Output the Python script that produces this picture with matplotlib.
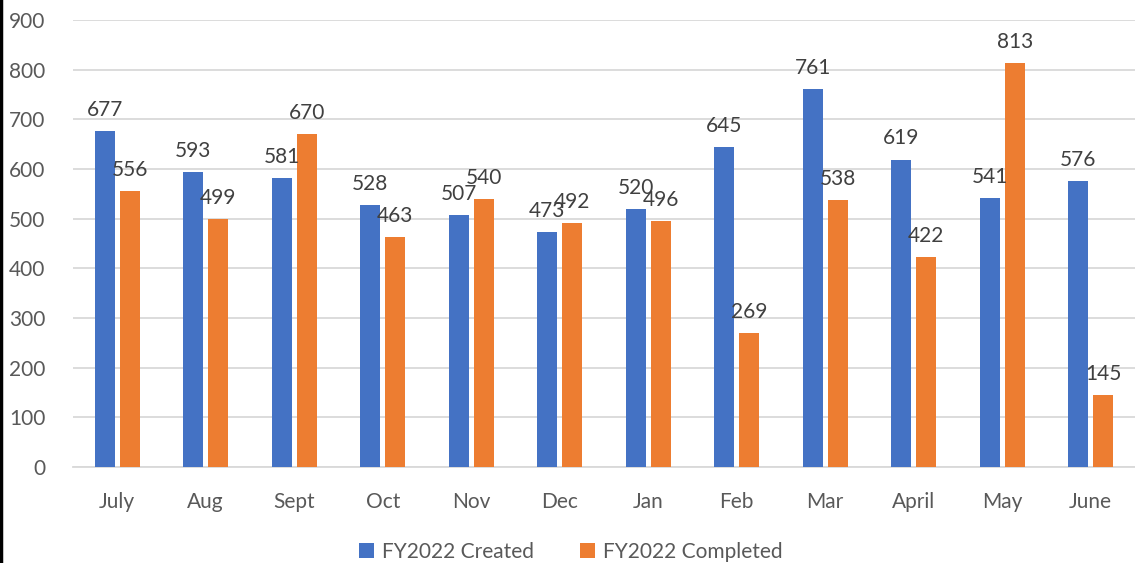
import matplotlib.pyplot as plt
import numpy as np
from matplotlib.lines import Line2D

# monthly tickets, FY2022
months = ["July", "Aug", "Sept", "Oct", "Nov", "Dec", "Jan", "Feb", "Mar",
          "April", "May", "June"]
created = [677, 593, 581, 528, 507, 473, 520, 645, 761, 619, 541, 576]
completed = [556, 499, 670, 463, 540, 492, 496, 269, 538, 422, 813, 145]

plt.rcParams["font.family"] = ["Lato", "DejaVu Sans"]

fig = plt.figure(figsize=(11.35, 5.63), dpi=100)
ax = fig.add_axes([0.0643, 0.1705, 0.9357, 0.794])

x = np.arange(len(months))
w = 0.225
off = 0.141
b1 = ax.bar(x - off, created, width=w, color="#4472C4", label="FY2022 Created",
            zorder=3)
b2 = ax.bar(x + off, completed, width=w, color="#ED7D31",
            label="FY2022 Completed", zorder=3)
ax.bar_label(b1, padding=8, fontsize=15, color="#404040", zorder=4)
ax.bar_label(b2, padding=8, fontsize=15, color="#404040", zorder=4)

ax.set_xlim(-0.5, len(months) - 0.5)
ax.set_ylim(0, 900)
ax.set_yticks(range(0, 901, 100))
ax.set_xticks(x)
ax.set_xticklabels(months)
ax.tick_params(axis="both", length=0, labelsize=15, colors="#595959")
ax.tick_params(axis="x", pad=18)
ax.tick_params(axis="y", pad=20)
ax.grid(axis="y", color="#D9D9D9", linewidth=1.3, zorder=0)
for s in ["top", "right", "left"]:
    ax.spines[s].set_visible(False)
ax.spines["bottom"].set_color("#D9D9D9")
ax.spines["bottom"].set_linewidth(1.3)

fig.legend(loc="center", bbox_to_anchor=(0.503, 0.02), ncol=2, frameon=False,
           fontsize=15, labelcolor="#595959", handlelength=0.7,
           handleheight=0.7, handletextpad=0.4, columnspacing=2.2)

# black frame edge on the left of the screenshot
fig.add_artist(Line2D([0.001, 0.001], [0, 1], color="black", linewidth=2.5,
                      transform=fig.transFigure))

fig.savefig("out.png", dpi=100)
